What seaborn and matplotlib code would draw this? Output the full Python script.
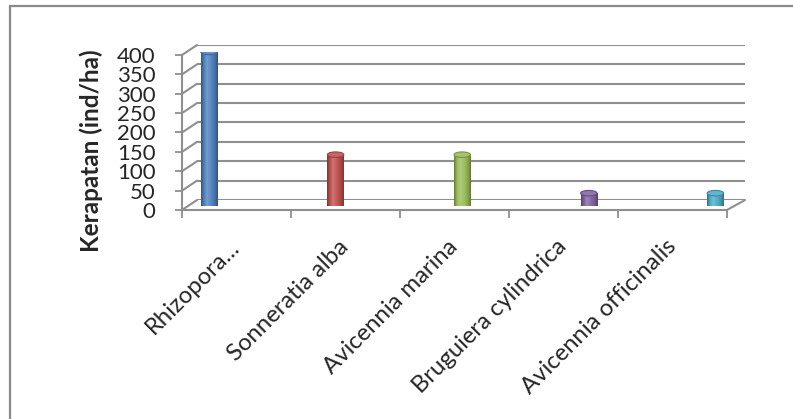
import numpy as np
import pandas as pd
import matplotlib
matplotlib.use("Agg")
import matplotlib.pyplot as plt
import seaborn as sns
from matplotlib.patches import Rectangle, Ellipse
from matplotlib.lines import Line2D
from matplotlib.colors import to_rgb
from matplotlib.transforms import ScaledTranslation

# Density of mangrove species (individuals per hectare)
species = ["Rhizopora...", "Sonneratia alba", "Avicennia marina",
           "Bruguiera cylindrica", "Avicennia officinalis"]
density = [400, 133.33, 133.33, 33.33, 33.33]
bar_colors = ["#4F81BD", "#C0504D", "#9BBB59", "#8064A2", "#4BACC6"]
y_ticks = [0, 50, 100, 150, 200, 250, 300, 350, 400]
y_label = "Kerapatan (ind/ha)"

sns.set_style("white")
plt.rcParams["font.family"] = ["Lato", "DejaVu Sans"]

W, H = 793, 419
fig = plt.figure(figsize=(W / 100, H / 100), dpi=100)


def box(left, top, right, bottom):
    return [left / W, 1 - bottom / H, (right - left) / W, (bottom - top) / H]


grid_c = "#8f8f8f"
ymax = y_ticks[-1]

# back wall with horizontal gridlines
ax_wall = fig.add_axes(box(197, 45, 745, 200), zorder=1)
ax_wall.set_xlim(0, 1)
ax_wall.set_ylim(0, ymax)
for v in y_ticks:
    ax_wall.axhline(v, color=grid_c, lw=1.5)
ax_wall.axis("off")

# front axis carrying the ticks and category labels
n = len(species)
ax_front = fig.add_axes(box(182, 55, 727, 210), zorder=2)
ax_front.patch.set_alpha(0)
ax_front.set_xlim(0, n)
ax_front.set_ylim(0, ymax)
for s in ["top", "right"]:
    ax_front.spines[s].set_visible(False)
for s in ["left", "bottom"]:
    ax_front.spines[s].set_color(grid_c)
    ax_front.spines[s].set_linewidth(1.5)
ax_front.set_yticks(y_ticks)
ax_front.set_yticklabels([str(t) for t in y_ticks], fontsize=16)
ax_front.set_xticks(np.arange(n + 1))
ax_front.set_xticklabels([])
ax_front.set_xticks(np.arange(n) + 0.5, minor=True)
ax_front.set_xticklabels(species, minor=True, fontsize=17.2, rotation=45,
                         ha="right", va="center", rotation_mode="anchor")
shift = ScaledTranslation(12 / 100, 0, fig.dpi_scale_trans)
for lbl in ax_front.get_xticklabels(minor=True):
    lbl.set_transform(lbl.get_transform() + shift)
ax_front.tick_params(axis="y", direction="out", length=5, width=1.3,
                     color=grid_c, pad=14, left=True)
ax_front.tick_params(axis="x", which="major", direction="out", length=6,
                     width=1.3, color=grid_c, bottom=True)
ax_front.tick_params(axis="x", which="minor", length=0, pad=24)
ax_front.set_ylabel(y_label, fontsize=17.5, fontweight="bold")
ax_front.yaxis.set_label_coords(-0.167, 0.38)
ax_front.yaxis.label.set_va("center")

# side wall and floor edges joining the front axis to the back wall
to_fig = fig.transFigure.inverted()
for v in y_ticks:
    p0 = to_fig.transform(ax_front.transData.transform((0, v)))
    p1 = to_fig.transform(ax_wall.transData.transform((0, v)))
    fig.add_artist(Line2D([p0[0], p1[0]], [p0[1], p1[1]], color=grid_c,
                          lw=1.5, transform=fig.transFigure, zorder=1.5))
p0 = to_fig.transform(ax_front.transData.transform((n, 0)))
p1 = to_fig.transform(ax_wall.transData.transform((1, 0)))
fig.add_artist(Line2D([p0[0], p1[0]], [p0[1], p1[1]], color=grid_c,
                      lw=1.5, transform=fig.transFigure, zorder=1.5))

# cylinders
ax_bar = fig.add_axes(box(197, 52, 745, 206), zorder=3)
ax_bar.patch.set_alpha(0)
df = pd.DataFrame({"species": species, "density": density})
sns.barplot(data=df, x="species", y="density", hue="species",
            palette=bar_colors, legend=False, width=0.13, ax=ax_bar,
            saturation=1)
ax_bar.set_xlim(-0.095, 4.234)
ax_bar.set_ylim(0, ymax)
ax_bar.axis("off")

px_per_unit = (206 - 52) / ymax
cap_h = 5.5 / px_per_unit


def shade(rgb, f):
    rgb = np.array(rgb)
    if f >= 0:
        return rgb + (1 - rgb) * f
    return rgb * (1 + f)


stops = [(0.0, -0.35), (0.12, -0.1), (0.35, 0.22), (0.6, 0.05),
         (0.85, -0.15), (1.0, -0.35)]
xs = np.linspace(0, 1, 64)
for patch, col in zip(ax_bar.patches, bar_colors):
    base = to_rgb(col)
    x0, w = patch.get_x(), patch.get_width()
    h = patch.get_height()
    fs = np.interp(xs, [s[0] for s in stops], [s[1] for s in stops])
    grad = np.array([shade(base, f) for f in fs])[None, :, :]
    patch.set_facecolor("none")
    patch.set_edgecolor("none")
    # rounded base
    ax_bar.add_patch(Ellipse((x0 + w / 2, 0), w, cap_h,
                             facecolor=shade(base, -0.2), edgecolor="none",
                             zorder=1))
    im = ax_bar.imshow(grad, extent=(x0, x0 + w, 0, h), aspect="auto",
                       zorder=2, interpolation="bilinear")
    im.set_clip_path(patch)
    # top cap
    ax_bar.add_patch(Ellipse((x0 + w / 2, h), w, cap_h,
                             facecolor=shade(base, 0.12),
                             edgecolor=shade(base, -0.2), lw=0.8, zorder=3))
ax_bar.set_xlim(-0.095, 4.234)
ax_bar.set_ylim(0, ymax)

# chart frame
fig.add_artist(Rectangle((10 / W, -0.1), 1.0, 1 - 6 / H + 0.1, fill=False,
                         edgecolor="#8a8a8a", lw=1.6,
                         transform=fig.transFigure, clip_on=False))

fig.savefig("out.png", dpi=100)
